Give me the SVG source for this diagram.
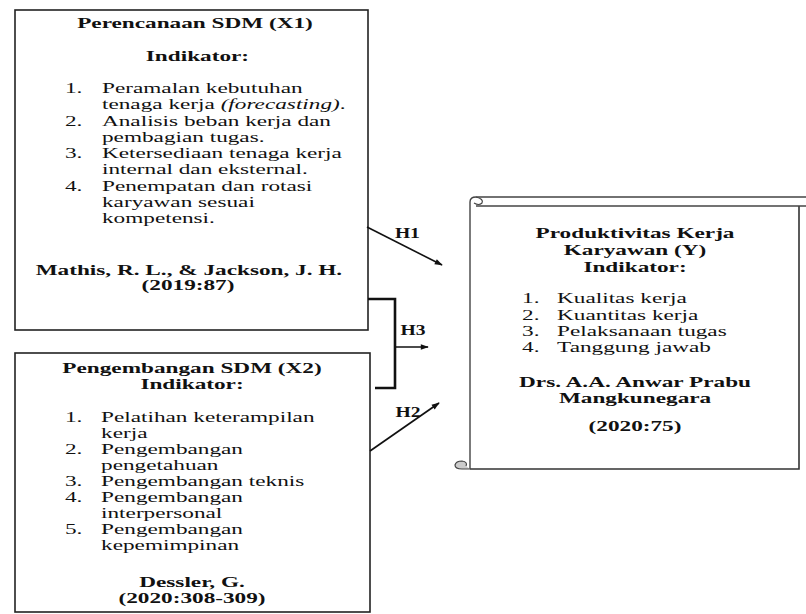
<svg xmlns="http://www.w3.org/2000/svg" width="806" height="614" viewBox="0 0 806 614">
<defs>
<style>
text{font-family:"Liberation Serif","Times New Roman",serif;font-size:15px;fill:#111}
.b{font-weight:bold}
.c{text-anchor:middle}
.box{fill:#fff;stroke:#222;stroke-width:1.6}
.ln{fill:none;stroke:#111;stroke-width:1.6}
.br{fill:none;stroke:#111;stroke-width:2.6}
.lb{font-weight:bold;font-size:14px;text-anchor:middle}
</style>
<marker id="ah" viewBox="0 0 10 10" refX="9" refY="5" markerWidth="6" markerHeight="5" orient="auto" markerUnits="strokeWidth">
<path d="M0,1.5 L10,5 L0,8.5 Z" fill="#111"/>
</marker>
</defs>
<rect width="806" height="614" fill="#fff"/>

<g id="x1">
<rect class="box" x="15" y="10" width="353" height="320"/>
<g transform="scale(1.55,1)">
<text class="b c" x="125.8" y="28">Perencanaan SDM (X1)</text>
<text class="b c" x="127.4" y="61">Indikator:</text>
<text x="41.9" y="93">1.</text><text x="65.8" y="93">Peramalan kebutuhan</text>
<text x="65.8" y="109.3">tenaga kerja <tspan font-style="italic">(forecasting)</tspan>.</text>
<text x="41.9" y="125.6">2.</text><text x="65.8" y="125.6">Analisis beban kerja dan</text>
<text x="65.8" y="141.9">pembagian tugas.</text>
<text x="41.9" y="158.2">3.</text><text x="65.8" y="158.2">Ketersediaan tenaga kerja</text>
<text x="65.8" y="174.5">internal dan eksternal.</text>
<text x="41.9" y="190.8">4.</text><text x="65.8" y="190.8">Penempatan dan rotasi</text>
<text x="65.8" y="207.1">karyawan sesuai</text>
<text x="65.8" y="223.4">kompetensi.</text>
<text class="b c" x="121.9" y="275">Mathis, R. L., &amp; Jackson, J. H.</text>
<text class="b c" x="121.3" y="290">(2019:87)</text>
</g>
</g>

<g id="x2">
<rect class="box" x="15" y="353" width="355" height="259"/>
<g transform="scale(1.55,1)">
<text class="b c" x="123.9" y="373">Pengembangan SDM (X2)</text>
<text class="b c" x="123.9" y="389">Indikator:</text>
<text x="41.9" y="422">1.</text><text x="65.2" y="422">Pelatihan keterampilan</text>
<text x="65.2" y="438">kerja</text>
<text x="41.9" y="454">2.</text><text x="65.2" y="454">Pengembangan</text>
<text x="65.2" y="470">pengetahuan</text>
<text x="41.9" y="486">3.</text><text x="65.2" y="486">Pengembangan teknis</text>
<text x="41.9" y="502">4.</text><text x="65.2" y="502">Pengembangan</text>
<text x="65.2" y="518">interpersonal</text>
<text x="41.9" y="534">5.</text><text x="65.2" y="534">Pengembangan</text>
<text x="65.2" y="550">kepemimpinan</text>
<text class="b c" x="123.9" y="587">Dessler, G.</text>
<text class="b c" x="123.9" y="603">(2020:308-309)</text>
</g>
</g>

<g id="y">
<path d="M470,469 H799 V206" fill="#fff" stroke="#333" stroke-width="1.6"/>
<path d="M470,469 V202 Q470,197 476,197 H806" fill="none" stroke="#444" stroke-width="1.4"/>
<path d="M476,206 H806" fill="none" stroke="#444" stroke-width="1.4"/>
<path d="M476,197 Q484,199 482,203 Q479,206 474,203" fill="none" stroke="#444" stroke-width="1.2"/>
<path d="M470,469 H462 Q455,469 455,465 Q456,461 462,461 Q468,462 466,466" fill="#ccc" stroke="#444" stroke-width="1.2"/>
<g transform="scale(1.55,1)">
<text class="b c" x="409.7" y="238">Produktivitas Kerja</text>
<text class="b c" x="409.7" y="255">Karyawan (Y)</text>
<text class="b c" x="409.7" y="272">Indikator:</text>
<text x="336.8" y="303">1.</text><text x="359.4" y="303">Kualitas kerja</text>
<text x="336.8" y="320">2.</text><text x="359.4" y="320">Kuantitas kerja</text>
<text x="336.8" y="336">3.</text><text x="359.4" y="336">Pelaksanaan tugas</text>
<text x="336.8" y="352">4.</text><text x="359.4" y="352">Tanggung jawab</text>
<text class="b c" x="409.7" y="387">Drs. A.A. Anwar Prabu</text>
<text class="b c" x="409.7" y="403">Mangkunegara</text>
<text class="b c" x="409.7" y="431">(2020:75)</text>
</g>
</g>

<g id="connectors">
<line class="ln" x1="367" y1="227" x2="442" y2="265" marker-end="url(#ah)"/>
<path class="br" d="M368,299 H395 V388 H375"/>
<line class="ln" x1="395" y1="347" x2="428" y2="347" marker-end="url(#ah)"/>
<line class="ln" x1="370" y1="451" x2="439" y2="403" marker-end="url(#ah)"/>
<g transform="scale(1.4,1)">
<text class="lb" x="291" y="238">H1</text>
<text class="lb" x="295" y="335">H3</text>
<text class="lb" x="291.4" y="417">H2</text>
</g>
</g>
</svg>
